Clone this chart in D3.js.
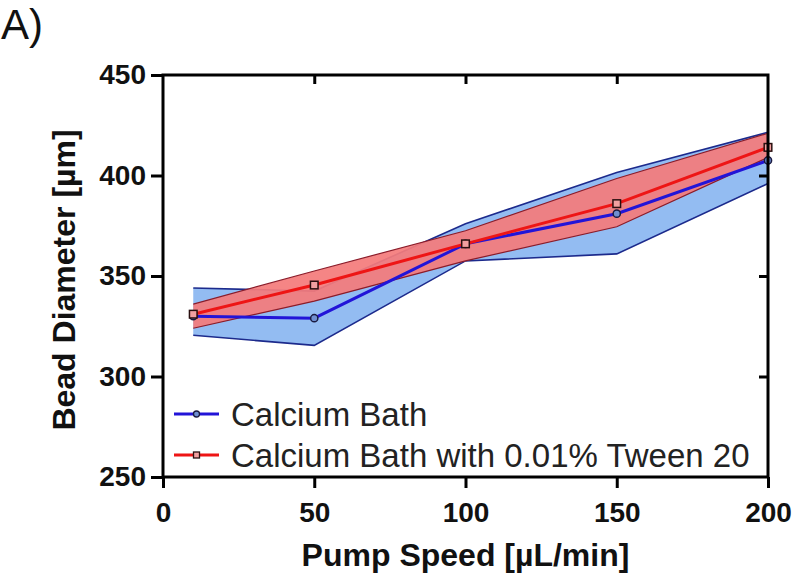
<!DOCTYPE html>
<html>
<head>
<meta charset="utf-8">
<script src="https://cdn.jsdelivr.net/npm/d3@7"></script>
<style>
  html, body { margin: 0; padding: 0; background: #fff; }
  svg { display: block; font-family: "Liberation Sans", Arial, sans-serif; }
  .tick-label { font-weight: bold; font-size: 28px; fill: #111; }
  .axis-title { font-weight: bold; font-size: 32px; fill: #111; }
  .legend-label { font-size: 33px; fill: #222; }
</style>
</head>
<body>
<div id="chart"></div>
<script>
// ---------- Data ----------
const speeds = [10, 50, 100, 150, 200];

const bathMean = [330, 329, 366, 381, 407.5];
const bathLow  = [320.5, 315.5, 357.5, 361, 396];
const bathHigh = [344, 342.5, 376, 401.5, 421.5];

const tweenMean = [331, 345.5, 366, 386, 414];
const tweenLow  = [324, 337.5, 357.5, 374.5, 409];
const tweenHigh = [336, 352.5, 372.5, 398.5, 421];

const xTickValues = [0, 50, 100, 150, 200];
const yTickValues = [250, 300, 350, 400, 450];

const seriesNames = ["Calcium Bath", "Calcium Bath with 0.01% Tween 20"];

// ---------- Layout ----------
const width = 795, height = 577;
const plot = { left: 163, right: 768, top: 75, bottom: 477 };

const svg = d3.select("#chart").append("svg")
  .attr("width", width)
  .attr("height", height);

const x = d3.scaleLinear().domain([0, 200]).range([plot.left, plot.right]);
const y = d3.scaleLinear().domain([250, 450]).range([plot.bottom, plot.top]);

const COLORS = {
  blueFill: "#93bcf2",
  blueEdge: "#1c2a8c",
  blueLine: "#2214d8",
  redFill: "#f47c7c",
  redEdge: "#8a1c2a",
  redLine: "#ee1515"
};

const rows = (mean, low, high) => speeds.map((s, i) => ({ s, mean: mean[i], low: low[i], high: high[i] }));
const bath  = rows(bathMean, bathLow, bathHigh);
const tween = rows(tweenMean, tweenLow, tweenHigh);

const area = d3.area().x(d => x(d.s)).y0(d => y(d.low)).y1(d => y(d.high));
const lineOf = key => d3.line().x(d => x(d.s)).y(d => y(d[key]));

const g = svg.append("g");

// ---------- Bands ----------
g.append("path").datum(bath).attr("d", area).attr("fill", COLORS.blueFill);
["low", "high"].forEach(k => {
  g.append("path").datum(bath).attr("d", lineOf(k))
    .attr("fill", "none").attr("stroke", COLORS.blueEdge).attr("stroke-width", 1.6);
});

g.append("path").datum(tween).attr("d", area).attr("fill", COLORS.redFill).attr("fill-opacity", 0.93);
["low", "high"].forEach(k => {
  g.append("path").datum(tween).attr("d", lineOf(k))
    .attr("fill", "none").attr("stroke", COLORS.redEdge).attr("stroke-width", 1.2);
});

// ---------- Mean lines ----------
g.append("path").datum(bath).attr("d", lineOf("mean"))
  .attr("fill", "none").attr("stroke", COLORS.blueLine).attr("stroke-width", 3);
g.append("path").datum(tween).attr("d", lineOf("mean"))
  .attr("fill", "none").attr("stroke", COLORS.redLine).attr("stroke-width", 3);

// ---------- Markers ----------
g.selectAll(".dot-bath").data(bath).enter().append("circle")
  .attr("class", "dot-bath")
  .attr("cx", d => x(d.s)).attr("cy", d => y(d.mean)).attr("r", 3.6)
  .attr("fill", "#6f8fd0").attr("stroke", "#1a1a40").attr("stroke-width", 1.5);

g.selectAll(".dot-tween").data(tween).enter().append("rect")
  .attr("class", "dot-tween")
  .attr("x", d => x(d.s) - 3.8).attr("y", d => y(d.mean) - 3.8)
  .attr("width", 7.6).attr("height", 7.6)
  .attr("fill", "#f2a0a0").attr("stroke", "#2a1010").attr("stroke-width", 1.5);

// ---------- Axes ----------
const styleAxis = sel => {
  sel.select(".domain").remove();
  sel.selectAll(".tick line").attr("stroke", "#000").attr("stroke-width", 3);
  sel.selectAll(".tick text").attr("class", "tick-label").attr("fill", null);
};

svg.append("g")
  .attr("transform", `translate(${plot.left},0)`)
  .call(d3.axisLeft(y).tickValues(yTickValues).tickSize(12).tickPadding(5))
  .call(styleAxis);

svg.append("g")
  .attr("transform", `translate(0,${plot.bottom})`)
  .call(d3.axisBottom(x).tickValues(xTickValues).tickSize(11).tickPadding(14))
  .call(styleAxis);

// mirrored inner ticks on top and right
svg.append("g")
  .attr("transform", `translate(0,${plot.top})`)
  .call(d3.axisTop(x).tickValues([50, 100, 150]).tickSize(-9).tickFormat(""))
  .call(styleAxis);

svg.append("g")
  .attr("transform", `translate(${plot.right},0)`)
  .call(d3.axisRight(y).tickValues([300, 350, 400]).tickSize(-9).tickFormat(""))
  .call(styleAxis);

svg.append("rect")
  .attr("x", plot.left).attr("y", plot.top)
  .attr("width", plot.right - plot.left).attr("height", plot.bottom - plot.top)
  .attr("fill", "none").attr("stroke", "#000").attr("stroke-width", 3);

// ---------- Titles ----------
svg.append("text")
  .attr("class", "axis-title")
  .attr("x", (plot.left + plot.right) / 2)
  .attr("y", 566)
  .attr("text-anchor", "middle")
  .text("Pump Speed [\u00b5L/min]");

svg.append("text")
  .attr("class", "axis-title")
  .attr("transform", `translate(75,280) rotate(-90)`)
  .attr("text-anchor", "middle")
  .text("Bead Diameter [\u00b5m]");

svg.append("text")
  .attr("x", 1).attr("y", 39)
  .attr("font-size", 42)
  .attr("fill", "#111")
  .text("A)");

// ---------- Legend ----------
const legendItems = [
  { label: seriesNames[0], color: COLORS.blueLine, marker: "circle" },
  { label: seriesNames[1], color: COLORS.redLine, marker: "square" }
];

const legend = svg.append("g").attr("transform", "translate(174,414)");
legendItems.forEach((d, i) => {
  const row = legend.append("g").attr("transform", `translate(0,${i * 41})`);
  row.append("line").attr("x1", 0).attr("x2", 45).attr("y1", 0).attr("y2", 0)
    .attr("stroke", d.color).attr("stroke-width", 3);
  if (d.marker === "circle") {
    row.append("circle").attr("cx", 22.5).attr("cy", 0).attr("r", 3)
      .attr("fill", "#6f8fd0").attr("stroke", "#1a1a40").attr("stroke-width", 1.3);
  } else {
    row.append("rect").attr("x", 19.5).attr("y", -3).attr("width", 6).attr("height", 6)
      .attr("fill", "#f2a0a0").attr("stroke", "#2a1010").attr("stroke-width", 1.3);
  }
  row.append("text").attr("class", "legend-label")
    .attr("x", 57).attr("y", 12)
    .text(d.label);
});
</script>
</body>
</html>
